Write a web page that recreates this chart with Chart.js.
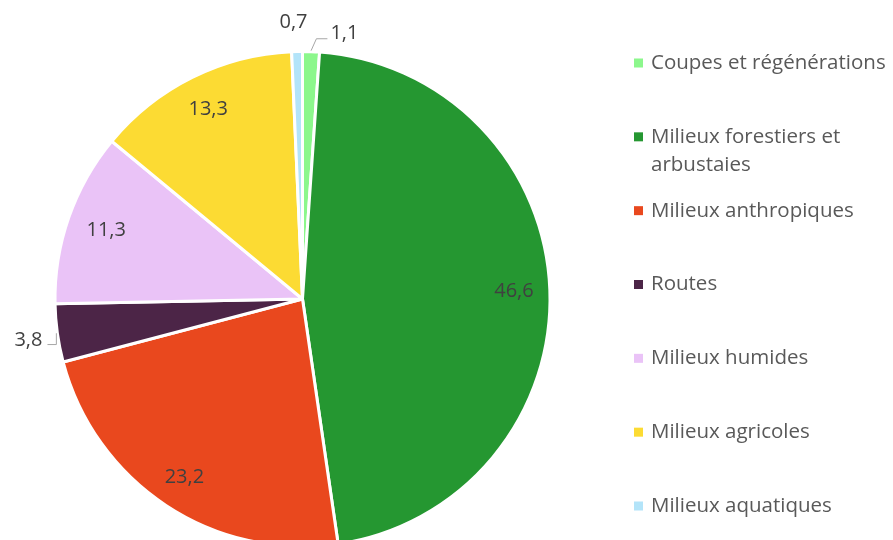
<!DOCTYPE html>
<html>
<head>
<meta charset="utf-8">
<script src="https://cdn.jsdelivr.net/npm/chart.js@4.4.0/dist/chart.umd.min.js"></script>
<style>
  html, body { margin: 0; padding: 0; background: #fff; overflow: hidden; }
  #wrap { width: 893px; height: 600px; }
</style>
</head>
<body>
<div id="wrap"><canvas id="myChart" width="893" height="600"></canvas></div>
<script>
const categories = [
  'Coupes et régénérations',
  'Milieux forestiers et arbustaies',
  'Milieux anthropiques',
  'Routes',
  'Milieux humides',
  'Milieux agricoles',
  'Milieux aquatiques',
];
const values = [1.1, 46.6, 23.2, 3.8, 11.3, 13.3, 0.7];
const colors = ['#8cf78c', '#259731', '#e9481e', '#4c2547', '#eac3f7', '#fcdb33', '#b3e4f9'];

// where each value label sits: radius factor, angle shift (deg), leader style
const labelPlace = [
  { r: 1.085, shift: 7, leader: 'right' },
  { r: 0.855, shift: 0 },
  { r: 0.865, shift: 0 },
  { r: 1.12, shift: -0.7, leader: 'left' },
  { r: 0.84, shift: 0 },
  { r: 0.855, shift: 0 },
  { r: 1.12, shift: -0.6 },
];

const FONT = '"Open Sans", Lato, sans-serif';

const fmt = (v) => v.toFixed(1).replace('.', ',');

const labelsPlugin = {
  id: 'pieLabels',
  afterDraw(chart) {
    const { ctx } = chart;
    const meta = chart.getDatasetMeta(0);
    ctx.save();
    ctx.font = '20px ' + FONT;
    ctx.fillStyle = '#404040';
    ctx.textAlign = 'center';
    ctx.textBaseline = 'middle';
    meta.data.forEach((arc, i) => {
      const p = labelPlace[i];
      const mid = (arc.startAngle + arc.endAngle) / 2;
      const a = mid + p.shift * Math.PI / 180;
      const r = arc.outerRadius * p.r;
      const lx = arc.x + Math.cos(a) * r;
      const ly = arc.y + Math.sin(a) * r;
      const text = fmt(values[i]);
      ctx.fillText(text, lx, ly);
      if (p.leader) {
        const w = ctx.measureText(text).width;
        const ex = arc.x + Math.cos(mid) * (arc.outerRadius + 1);
        const ey = arc.y + Math.sin(mid) * (arc.outerRadius + 1);
        ctx.beginPath();
        ctx.strokeStyle = '#a6a6a6';
        ctx.lineWidth = 1;
        ctx.moveTo(ex, ey);
        if (p.leader === 'right') {
          const left = lx - w / 2;
          ctx.lineTo(left - 14, ly + 5);
          ctx.lineTo(left - 3, ly + 5);
        } else {
          const right = lx + w / 2;
          ctx.lineTo(ex, ly + 4);
          ctx.lineTo(right + 5, ly + 4);
        }
        ctx.stroke();
      }
    });

    // legend on the right
    const boxX = 634;
    const textX = 651;
    const top = 63;
    const step = (506 - 63) / 6;
    const maxW = chart.width - textX - 1;
    ctx.font = '20.5px ' + FONT;
    ctx.textAlign = 'left';
    categories.forEach((name, i) => {
      const y = top + i * step;
      ctx.fillStyle = colors[i];
      ctx.fillRect(boxX, y - 4.5, 9, 9);
      ctx.fillStyle = '#595959';
      const words = name.split(' ');
      const lines = [];
      let line = '';
      words.forEach((wd) => {
        const test = line ? line + ' ' + wd : wd;
        if (ctx.measureText(test).width > maxW && line) {
          lines.push(line);
          line = wd;
        } else {
          line = test;
        }
      });
      lines.push(line);
      lines.forEach((l, k) => ctx.fillText(l, textX, y + k * 28));
    });
    ctx.restore();
  },
};

new Chart(document.getElementById('myChart'), {
  type: 'pie',
  data: {
    labels: categories,
    datasets: [{
      data: values,
      backgroundColor: colors,
      borderColor: '#ffffff',
      borderWidth: 3,
    }],
  },
  options: {
    responsive: false,
    animation: false,
    rotation: 0,
    layout: { padding: { left: 53, right: 341, top: 50, bottom: 52 } },
    plugins: {
      legend: { display: false },
      tooltip: { enabled: false },
    },
  },
  plugins: [labelsPlugin],
});
</script>
</body>
</html>
